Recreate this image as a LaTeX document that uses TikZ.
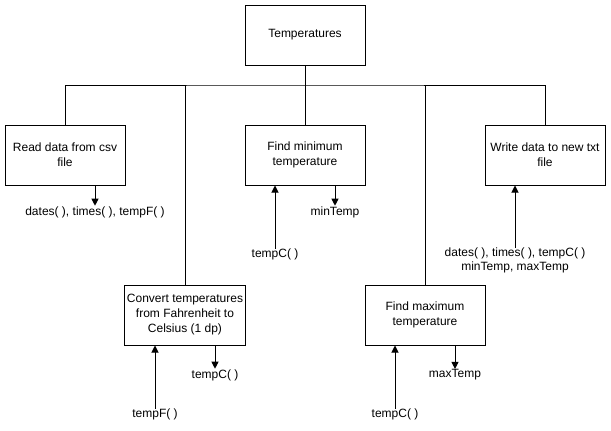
\documentclass[tikz,border=0pt]{standalone}
\usepackage{fontspec}
\setmainfont{Liberation Sans}
\usetikzlibrary{arrows.meta}
\begin{document}
\begin{tikzpicture}[x=1pt,y=-1pt,
  box/.style={draw, line width=1pt, minimum width=120pt, minimum height=60pt, align=center, inner sep=2pt, font=\fontsize{12}{15}\selectfont},
  lbl/.style={align=center, inner sep=1.5pt, font=\fontsize{12}{14}\selectfont},
  link/.style={line width=1pt},
  arr/.style={line width=1pt, -{Triangle[width=7pt,length=7pt]}}]
\fill[white] (0,0) rectangle (611,431);
\useasboundingbox (0,0) rectangle (611,431);

\node[box] (top) at (305,35) {Temperatures};
\node[box] (read) at (65,155) {Read data from csv\\file};
\node[box] (minf) at (305,155) {Find minimum\\temperature};
\node[box] (write) at (545,155) {Write data to new txt\\file};
\node[box] (conv) at (185,315) {Convert temperatures\\from Fahrenheit to\\Celsius (1 dp)};
\node[box] (maxf) at (425,315) {Find maximum\\temperature};

\coordinate (bus) at (305,85);
\draw[link] (top.south) -- (minf.north);
\draw[link] (read.north) |- (bus) -| (write.north);
\draw[link] (conv.north) -- (conv.north |- bus);
\draw[link] (maxf.north) -- (maxf.north |- bus);

% labels
\node[lbl] (readout) at (95,212) {dates( ), times( ), tempF( )};
\node[lbl] (minin) at (275,254) {tempC( )};
\node[lbl] (minout) at (335,212) {minTemp};
\node[lbl] (writein) at (515,260.5) {dates( ), times( ), tempC( )\\minTemp, maxTemp};
\node[lbl] (convin) at (155,414) {tempF( )};
\node[lbl] (convout) at (215,375) {tempC( )};
\node[lbl] (maxin) at (395,414) {tempC( )};
\node[lbl] (maxout) at (455,375) {maxTemp};

\coordinate (readoutT) at ([yshift=-1pt]readout.north);
\draw[arr] (read.south -| readout.north) -- (readoutT);
\draw[arr] (minf.south -| minout.north) -- ([yshift=-1pt]minout.north);
\draw[arr] ([yshift=-2pt]minin.north) -- (minf.south -| minin.north);
\draw[arr] ([yshift=-2pt]writein.north) -- (write.south -| writein.north);
\draw[arr] ([yshift=-2pt]convin.north) -- (conv.south -| convin.north);
\draw[arr] (conv.south -| convout.north) -- ([yshift=-1pt]convout.north);
\draw[arr] ([yshift=-2pt]maxin.north) -- (maxf.south -| maxin.north);
\draw[arr] (maxf.south -| maxout.north) -- ([yshift=-1pt]maxout.north);
\end{tikzpicture}
\end{document}
